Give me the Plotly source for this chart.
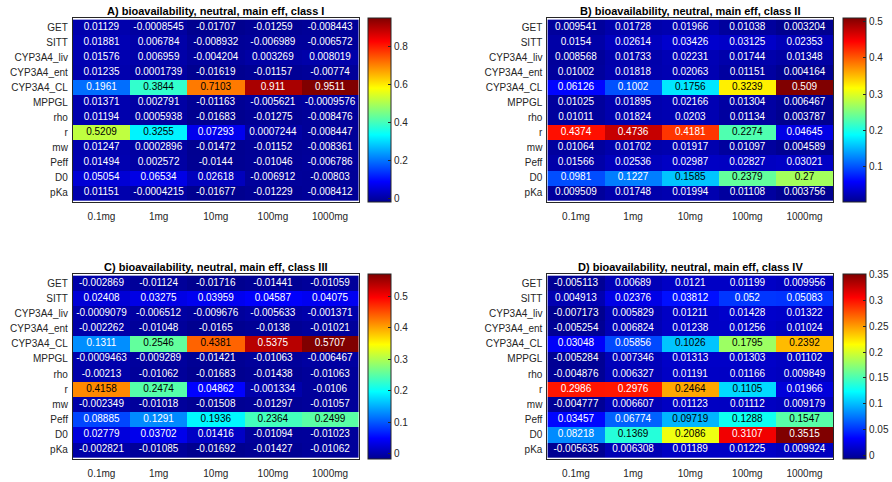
import plotly.graph_objects as go

# Sensitivity indices (main effects) of bioavailability, neutral compounds
params = ["GET", "SITT", "CYP3A4_liv", "CYP3A4_ent", "CYP3A4_CL", "MPPGL",
          "rho", "r", "mw", "Peff", "D0", "pKa"]
doses = ["0.1mg", "1mg", "10mg", "100mg", "1000mg"]

class_I = [
    [0.01129, -0.0008545, -0.01707, -0.01259, -0.008443],
    [0.01881, 0.006784, -0.008932, -0.006989, -0.006572],
    [0.01576, 0.006959, -0.004204, 0.003269, 0.008019],
    [0.01235, 0.0001739, -0.01619, -0.01157, -0.00774],
    [0.1961, 0.3844, 0.7103, 0.911, 0.9511],
    [0.01371, 0.002791, -0.01163, -0.005621, -0.0009576],
    [0.01194, 0.0005938, -0.01683, -0.01275, -0.008476],
    [0.5209, 0.3255, 0.07293, 0.0007244, -0.008447],
    [0.01247, 0.0002896, -0.01472, -0.01152, -0.008361],
    [0.01494, 0.002572, -0.0144, -0.01046, -0.006786],
    [0.05054, 0.06534, 0.02618, -0.006912, -0.00803],
    [0.01151, -0.0004215, -0.01677, -0.01229, -0.008412],
]
class_II = [
    [0.009541, 0.01728, 0.01966, 0.01038, 0.003204],
    [0.0154, 0.02614, 0.03426, 0.03125, 0.02353],
    [0.008568, 0.01733, 0.02231, 0.01744, 0.01348],
    [0.01002, 0.01818, 0.02063, 0.01151, 0.004164],
    [0.06126, 0.1002, 0.1756, 0.3239, 0.509],
    [0.01025, 0.01895, 0.02166, 0.01304, 0.006467],
    [0.01011, 0.01824, 0.0203, 0.01134, 0.003787],
    [0.4374, 0.4736, 0.4181, 0.2274, 0.04645],
    [0.01064, 0.01702, 0.01917, 0.01097, 0.004589],
    [0.01566, 0.02536, 0.02987, 0.02827, 0.03021],
    [0.0981, 0.1227, 0.1585, 0.2379, 0.27],
    [0.009509, 0.01748, 0.01994, 0.01108, 0.003756],
]
class_III = [
    [-0.002869, -0.01124, -0.01716, -0.01441, -0.01059],
    [0.02408, 0.03275, 0.03959, 0.04587, 0.04075],
    [-0.0009079, -0.006512, -0.009676, -0.005633, -0.001371],
    [-0.002262, -0.01048, -0.0165, -0.0138, -0.01021],
    [0.1311, 0.2546, 0.4381, 0.5375, 0.5707],
    [-0.0009463, -0.009289, -0.01421, -0.01063, -0.006467],
    [-0.00213, -0.01062, -0.01683, -0.01438, -0.01063],
    [0.4158, 0.2474, 0.04862, -0.001334, -0.0106],
    [-0.002349, -0.01018, -0.01508, -0.01297, -0.01057],
    [0.08885, 0.1291, 0.1936, 0.2364, 0.2499],
    [0.02779, 0.03702, 0.01416, -0.01094, -0.01023],
    [-0.002821, -0.01085, -0.01692, -0.01427, -0.01062],
]
class_IV = [
    [-0.005113, 0.00689, 0.0121, 0.01199, 0.009956],
    [0.004913, 0.02376, 0.03812, 0.052, 0.05083],
    [-0.007173, 0.005829, 0.01211, 0.01428, 0.01322],
    [-0.005254, 0.006824, 0.01238, 0.01256, 0.01024],
    [0.03048, 0.05856, 0.1026, 0.1795, 0.2392],
    [-0.005284, 0.007346, 0.01313, 0.01303, 0.01102],
    [-0.004876, 0.006327, 0.01191, 0.01166, 0.009849],
    [0.2986, 0.2976, 0.2464, 0.1105, 0.01966],
    [-0.004777, 0.006607, 0.01123, 0.01112, 0.009179],
    [0.03457, 0.06774, 0.09719, 0.1288, 0.1547],
    [0.08218, 0.1369, 0.2086, 0.3107, 0.3515],
    [-0.005635, 0.006308, 0.01189, 0.01225, 0.009924],
]

titles = [
    "A) bioavailability, neutral, main eff, class I",
    "B) bioavailability, neutral, main eff, class II",
    "C) bioavailability, neutral, main eff, class III",
    "D) bioavailability, neutral, main eff, class IV",
]
colorbar_ticks = [
    [0, 0.2, 0.4, 0.6, 0.8],
    [0.1, 0.2, 0.3, 0.4, 0.5],
    [0, 0.1, 0.2, 0.3, 0.4, 0.5],
    [0, 0.05, 0.1, 0.15, 0.2, 0.25, 0.3, 0.35],
]

# MATLAB-style jet colormap
jet = [
    [0.0, "#00008F"],
    [0.111, "#0000FF"],
    [0.365, "#00FFFF"],
    [0.619, "#FFFF00"],
    [0.873, "#FF0000"],
    [1.0, "#800000"],
]

W, H = 892, 482
FONT = "Liberation Sans, Arial, Helvetica, sans-serif"
INK = "#262626"

# panel geometry in pixels: (left, top, right, bottom), colorbar left
panels = [
    ((73, 18, 359, 202), 368),
    ((548, 18, 834, 202), 843),
    ((73, 274, 359, 459), 368),
    ((548, 274, 834, 459), 843),
]

fig = go.Figure()
datasets = [class_I, class_II, class_III, class_IV]

for i, (data, ((l, t, r, b), cbx)) in enumerate(zip(datasets, panels)):
    k = "" if i == 0 else str(i + 1)
    flat = [v for row in data for v in row]
    zmin, zmax = min(flat), max(flat)

    fig.add_trace(go.Heatmap(
        z=data, x=doses, y=params,
        xaxis="x" + k, yaxis="y" + k,
        colorscale=jet, zmin=zmin, zmax=zmax,
        xgap=0, ygap=0, hoverinfo="skip",
        colorbar=dict(
            x=cbx / W, xanchor="left", xpad=0,
            y=1 - t / H, yanchor="top", ypad=0,
            lenmode="pixels", len=b - t,
            thickness=23,
            outlinecolor=INK, outlinewidth=1,
            tickvals=colorbar_ticks[i],
            ticks="inside", ticklen=3, tickcolor=INK,
            tickfont=dict(family=FONT, size=10, color=INK),
        ),
    ))

    # cell labels: dark text on the light middle of the colormap
    xs, ys, txt, cols = [], [], [], []
    for ri, p in enumerate(params):
        for ci, d in enumerate(doses):
            v = data[ri][ci]
            frac = (v - zmin) / (zmax - zmin)
            xs.append(d)
            ys.append(p)
            txt.append("%.4g" % v)
            cols.append("black" if 0.28 <= frac <= 0.80 else "white")
    fig.add_trace(go.Scatter(
        x=xs, y=ys, text=txt, mode="text",
        xaxis="x" + k, yaxis="y" + k,
        textfont=dict(family=FONT, size=10, color=cols),
        hoverinfo="skip", showlegend=False,
    ))

    axis_common = dict(showline=True, mirror=True, linecolor=INK, linewidth=1,
                       showgrid=False, zeroline=False, ticks="",
                       tickfont=dict(family=FONT, size=10, color=INK))
    fig.update_layout({
        "xaxis" + k: dict(domain=[l / W, r / W], anchor="y" + k,
                          type="category", categoryorder="array", categoryarray=doses,
                          ticklabelstandoff=5, **axis_common),
        "yaxis" + k: dict(domain=[1 - b / H, 1 - t / H], anchor="x" + k,
                          type="category", categoryorder="array", categoryarray=params,
                          autorange="reversed", ticklabelstandoff=2, **axis_common),
    })

    fig.add_annotation(
        text="<b>%s</b>" % titles[i],
        x=(l + r) / 2 / W, y=1 - t / H, xref="paper", yref="paper",
        xanchor="center", yanchor="bottom", yshift=-1, showarrow=False,
        font=dict(family=FONT, size=11, color="black"),
    )

fig.update_layout(
    width=W, height=H,
    margin=dict(l=0, r=0, t=0, b=0),
    paper_bgcolor="white", plot_bgcolor="white",
    showlegend=False,
)

fig.write_html("out.html")
